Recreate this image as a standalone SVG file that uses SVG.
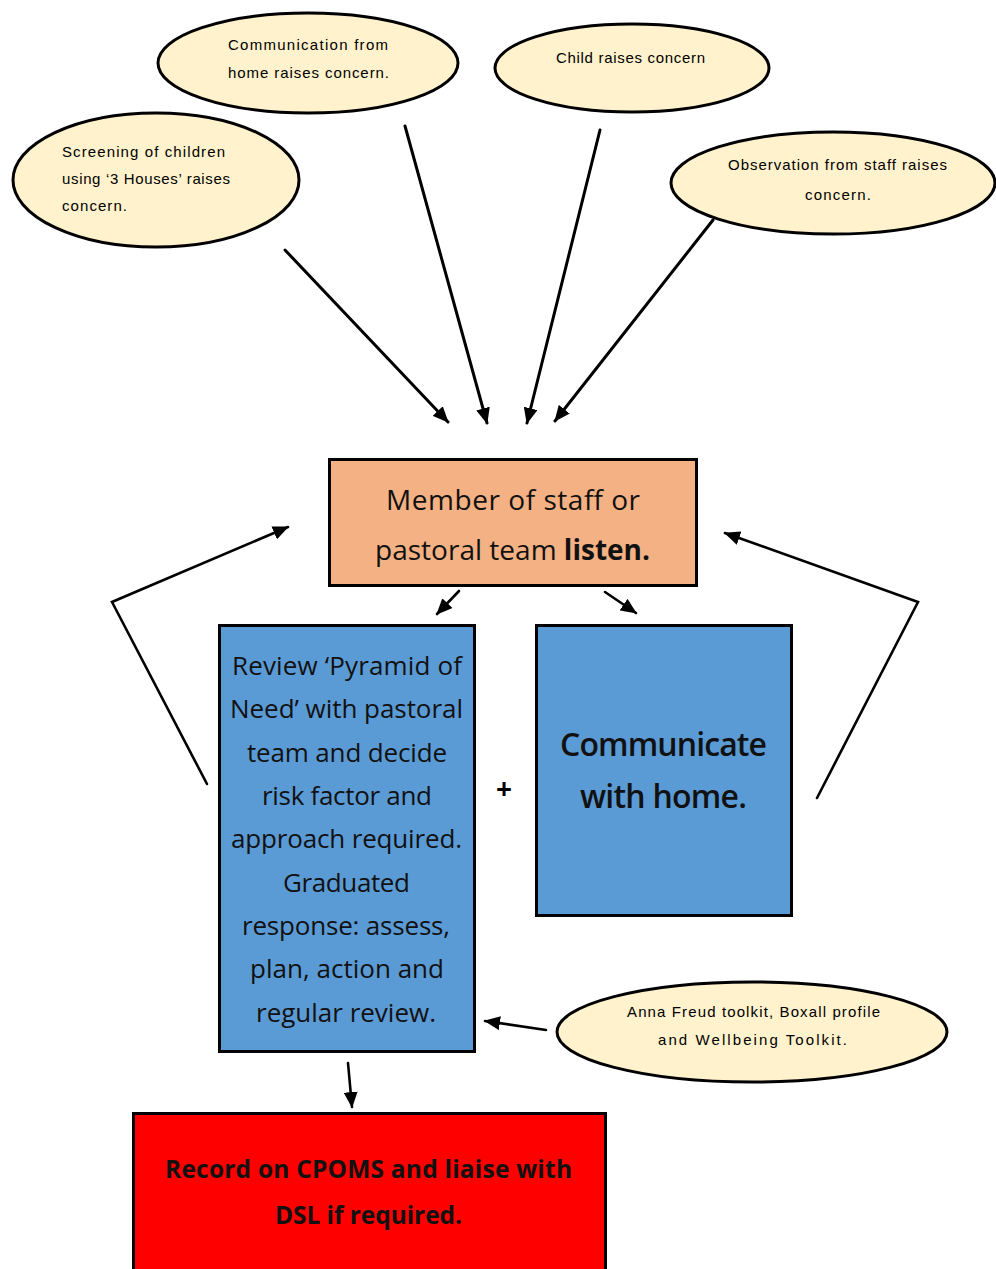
<svg xmlns="http://www.w3.org/2000/svg" width="996" height="1269" viewBox="0 0 996 1269">
<defs>
<style>
.oval{fill:#FFF2CC;stroke:#000;stroke-width:3}
.box{stroke:#000;stroke-width:3}
.small{font-family:"Liberation Sans",Arial,sans-serif;font-size:15px;fill:#000}
.main{font-family:"Open Sans","Noto Sans",sans-serif;font-size:26px;fill:#111}
.big{font-size:28px}
.comm{font-size:32px;font-weight:600}
.rec{font-size:24.5px;font-weight:bold}
.con{fill:none;stroke:#000;stroke-width:2.6;stroke-linecap:round}
</style>
<marker id="ah" markerUnits="userSpaceOnUse" markerWidth="16" markerHeight="14" viewBox="0 0 16 14" refX="15" refY="7" orient="auto">
<path d="M0,0 L16,7 L0,14 z" fill="#000"/>
</marker>
</defs>
<rect width="996" height="1269" fill="#fff"/>

<g id="oval-home">
<ellipse class="oval" cx="308" cy="63" rx="150" ry="50"/>
<text class="small" x="228" y="50" textLength="160">Communication from</text>
<text class="small" x="228" y="78" textLength="161">home raises concern.</text>
</g>
<g id="oval-screening">
<ellipse class="oval" cx="156" cy="180" rx="143" ry="67"/>
<text class="small" x="62" y="157" textLength="163">Screening of children</text>
<text class="small" x="62" y="184" textLength="168">using ‘3 Houses’ raises</text>
<text class="small" x="62" y="211" textLength="65">concern.</text>
</g>
<g id="oval-child">
<ellipse class="oval" cx="632" cy="68" rx="137" ry="44"/>
<text class="small" x="556" y="63" textLength="149">Child raises concern</text>
</g>
<g id="oval-observation">
<ellipse class="oval" cx="833" cy="183" rx="162" ry="51"/>
<text class="small" x="728" y="170" textLength="219">Observation from staff raises</text>
<text class="small" x="805" y="200" textLength="66">concern.</text>
</g>
<g id="oval-toolkit">
<ellipse class="oval" cx="752" cy="1032" rx="195" ry="50"/>
<text class="small" x="627" y="1017" textLength="253">Anna Freud toolkit, Boxall profile</text>
<text class="small" x="658" y="1045" textLength="189">and Wellbeing Toolkit.</text>
</g>

<g id="box-listen">
<rect class="box" x="329.5" y="459.5" width="367" height="126" fill="#F4B183"/>
<text class="main big" x="386" y="510" textLength="254">Member of staff or</text>
<text class="main big" x="375" y="560" textLength="275">pastoral team <tspan font-weight="bold">listen.</tspan></text>
</g>

<g id="box-review">
<rect class="box" x="219.5" y="625.5" width="255" height="426" fill="#5B9BD5"/>
<text class="main" x="232" y="675" textLength="230">Review ‘Pyramid of</text>
<text class="main" x="230" y="718" textLength="233">Need’ with pastoral</text>
<text class="main" x="247" y="762" textLength="200">team and decide</text>
<text class="main" x="262" y="805" textLength="170">risk factor and</text>
<text class="main" x="231" y="848" textLength="231">approach required.</text>
<text class="main" x="283" y="892" textLength="127">Graduated</text>
<text class="main" x="242" y="935" textLength="208">response: assess,</text>
<text class="main" x="250" y="978" textLength="194">plan, action and</text>
<text class="main" x="256" y="1022" textLength="180">regular review.</text>
</g>

<g id="plus">
<text x="504" y="799" text-anchor="middle" font-family="'Open Sans',sans-serif" font-size="28" font-weight="bold" fill="#000">+</text>
</g>

<g id="box-communicate">
<rect class="box" x="536.5" y="625.5" width="255" height="290" fill="#5B9BD5"/>
<text class="main comm" x="560" y="756" textLength="207">Communicate</text>
<text class="main comm" x="580" y="808" textLength="167">with home.</text>
</g>

<g id="box-record">
<rect class="box" x="133.5" y="1113.5" width="472" height="170" fill="#FF0000"/>
<text class="main rec" x="165" y="1178" textLength="407">Record on CPOMS and liaise with</text>
<text class="main rec" x="275" y="1224" textLength="187">DSL if required.</text>
</g>

<g id="connectors">
<line class="con" x1="285" y1="250" x2="448" y2="422" marker-end="url(#ah)" style="stroke-width:3"/>
<line class="con" x1="405" y1="126" x2="487" y2="423" marker-end="url(#ah)" style="stroke-width:3"/>
<line class="con" x1="600" y1="130" x2="527" y2="423" marker-end="url(#ah)" style="stroke-width:3"/>
<line class="con" x1="713" y1="220" x2="555" y2="421" marker-end="url(#ah)" style="stroke-width:3"/>
<line class="con" x1="459" y1="591" x2="437" y2="614" marker-end="url(#ah)"/>
<line class="con" x1="605" y1="592" x2="636" y2="613" marker-end="url(#ah)"/>
<polyline class="con" points="207,784 112,602 288,527" marker-end="url(#ah)"/>
<polyline class="con" points="817,798 918,602 725,533" marker-end="url(#ah)"/>
<line class="con" x1="546" y1="1030" x2="485" y2="1021" marker-end="url(#ah)"/>
<line class="con" x1="348" y1="1063" x2="352" y2="1107" marker-end="url(#ah)"/>
</g>
</svg>
